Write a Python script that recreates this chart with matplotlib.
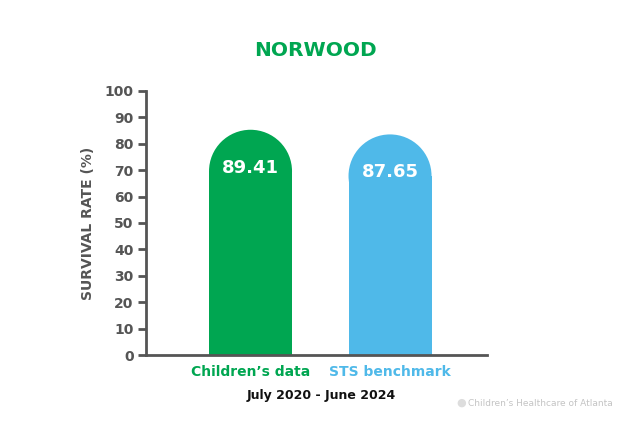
import matplotlib.pyplot as plt
from matplotlib.patches import Rectangle, Ellipse

# Data
categories = ["Children\u2019s data", "STS benchmark"]
values = [89.41, 87.65]
colors = ['#00a651', '#4fb9e9']
yticks = [0, 10, 20, 30, 40, 50, 60, 70, 80, 90, 100]
title = 'NORWOOD'
period = 'July 2020 - June 2024'

plt.rcParams['font.family'] = ['DejaVu Sans']
gray = '#555555'

fig = plt.figure(figsize=(6.36, 4.41), dpi=100)
ax = fig.add_axes([0.2296, 0.195, 0.5361, 0.5987])

# rounded "pill" bars: rectangle plus half ellipse on top
bw = 0.595
cap = 15.7      # cap radius in data units
shift = 4.1     # the picture's caps sit a little under the value
for i, (v, c) in enumerate(zip(values, colors)):
    top = v - shift
    ax.add_patch(Rectangle((i - bw / 2, 0), bw, top - cap, color=c, lw=0))
    ax.add_patch(Ellipse((i, top - cap), bw, 2 * cap, color=c, lw=0))
    ax.text(i, v - 18.4, f'{v:.2f}', color='white', fontsize=13, fontweight='bold',
            ha='center', va='center')

ax.set_xlim(-0.749, 1.695)
ax.set_ylim(0, 100)
ax.set_yticks(yticks)
ax.set_xticks([0, 1])
ax.set_xticklabels(categories)
for lbl, c in zip(ax.get_xticklabels(), colors):
    lbl.set_color(c)
    lbl.set_fontweight('bold')
    lbl.set_fontsize(10)
ax.tick_params(axis='x', length=0, pad=7)
ax.tick_params(axis='y', length=6, width=2, color=gray, labelcolor=gray,
               labelsize=10, pad=3)
for lbl in ax.get_yticklabels():
    lbl.set_fontweight('bold')

for s in ['top', 'right']:
    ax.spines[s].set_visible(False)
for s in ['left', 'bottom']:
    ax.spines[s].set_color(gray)
    ax.spines[s].set_linewidth(2)

ax.set_ylabel('SURVIVAL RATE (%)', color=gray, fontsize=10, fontweight='bold',
              labelpad=7)

fig.text(0.496, 0.885, title, color='#00a651', fontsize=14.5, fontweight='bold',
         ha='center', va='center')
fig.text(0.505, 0.104, period, color='#111111', fontsize=9, fontweight='bold',
         ha='center', va='center')
fig.text(0.717, 0.086, '\u25cf', color='#dddddd', fontsize=8, ha='left', va='center')
fig.text(0.736, 0.086, 'Children\u2019s Healthcare of Atlanta', color='#c4c4c4',
         fontsize=6.5, ha='left', va='center')

fig.savefig('out.png', dpi=100)
